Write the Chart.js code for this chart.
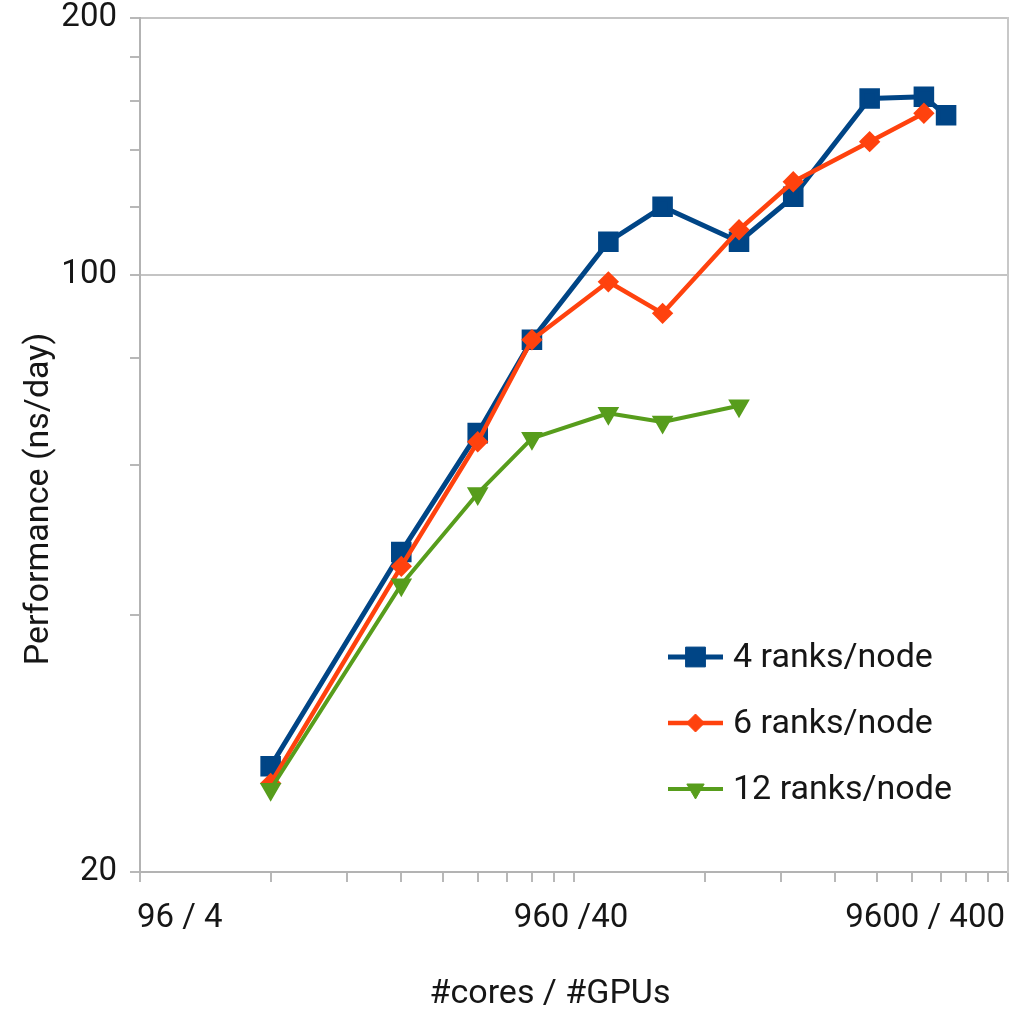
<!DOCTYPE html>
<html>
<head>
<meta charset="utf-8">
<script src="https://cdn.jsdelivr.net/npm/chart.js@4.4.0/dist/chart.umd.min.js"></script>
<style>
html,body{margin:0;padding:0;background:#fff;}
#wrap{width:1030px;height:1009px;}
</style>
</head>
<body>
<div id="wrap"><canvas id="c" width="1030" height="1009"></canvas></div>
<script>
// ---- data ----
const cores = [192, 384, 576, 768, 1152, 1536, 2304, 3072, 4608, 6144, 6912];
const ranks4 = [26.6, 47.4, 65.3, 84.0, 109.4, 120.2, 109.4, 123.5, 161.0, 161.7, 153.9];
const ranks6 = [25.4, 45.6, 63.8, 84.0, 98.2, 90.2, 113.0, 128.6, 143.3, 154.7, null];
const ranks12 = [25.0, 43.4, 55.5, 64.4, 68.9, 67.3, 70.3, null, null, null, null];
const seriesNames = ['4 ranks/node', '6 ranks/node', '12 ranks/node'];
const xTickValues = [96, 192, 288, 384, 480, 576, 672, 768, 864, 960, 1920, 2880, 3840, 4800, 5760, 6720, 7680, 8640, 9600];
const xTickLabels = {96: '96 / 4', 960: '960 /40', 9600: '9600 / 400'};
const yTickValues = [20, 40, 60, 80, 100, 120, 140, 160, 180, 200];
const yTickLabels = {20: '20', 100: '100', 200: '200'};
const yGridValues = [100, 200];
const xTitle = '#cores / #GPUs';
const yTitle = 'Performance (ns/day)';

const toPoints = arr => cores.map((c, i) => ({x: c, y: arr[i]})).filter(p => p.y !== null);

Chart.defaults.font.family = 'Roboto, "Noto Sans", sans-serif';
Chart.defaults.color = '#161616';

const legendPlugin = {
  id: 'insideLegend',
  afterDraw(chart, args, opts) {
    const ctx = chart.ctx;
    ctx.save();
    chart.data.datasets.forEach((ds, i) => {
      const y = opts.rows[i];
      ctx.strokeStyle = ds.borderColor;
      ctx.lineWidth = ds.borderWidth;
      ctx.beginPath();
      ctx.moveTo(opts.lineStart, y);
      ctx.lineTo(opts.lineEnd, y);
      ctx.stroke();
      ctx.fillStyle = ds.backgroundColor;
      ctx.strokeStyle = ds.borderColor;
      ctx.lineWidth = 1;
      Chart.helpers.drawPoint(ctx, {
        pointStyle: ds.pointStyle,
        rotation: ds.pointRotation || 0,
        radius: opts.markerRadius[i],
        borderWidth: 1
      }, (opts.lineStart + opts.lineEnd) / 2, y);
      ctx.fillStyle = '#161616';
      ctx.font = opts.font;
      ctx.textAlign = 'left';
      ctx.textBaseline = 'middle';
      ctx.fillText(ds.label, opts.textX, y + 1);
    });
    ctx.restore();
  }
};

const axisTitlePlugin = {
  id: 'axisTitles',
  afterDraw(chart, args, opts) {
    const ctx = chart.ctx;
    ctx.save();
    ctx.fillStyle = '#161616';
    ctx.font = opts.font;
    ctx.textAlign = 'center';
    ctx.textBaseline = 'middle';
    ctx.fillText(xTitle, opts.xTitleX, opts.xTitleY);
    ctx.translate(opts.yTitleX, opts.yTitleY);
    ctx.rotate(-Math.PI / 2);
    ctx.fillText(yTitle, 0, 0);
    ctx.restore();
  }
};

new Chart(document.getElementById('c'), {
  type: 'line',
  data: {
    datasets: [
      {label: seriesNames[0], data: toPoints(ranks4), borderColor: '#004586', backgroundColor: '#004586',
       borderWidth: 5, pointStyle: 'rect', pointRadius: 11, pointHoverRadius: 11, order: 3},
      {label: seriesNames[1], data: toPoints(ranks6), borderColor: '#ff420e', backgroundColor: '#ff420e',
       borderWidth: 4.5, pointStyle: 'rectRot', pointRadius: 7.5, pointHoverRadius: 7.5, order: 2},
      {label: seriesNames[2], data: toPoints(ranks12), borderColor: '#579d1c', backgroundColor: '#579d1c',
       borderWidth: 4, pointStyle: 'triangle', pointRotation: 180, pointRadius: 8.5, pointHoverRadius: 8.5, order: 1}
    ]
  },
  options: {
    responsive: false,
    animation: false,
    devicePixelRatio: 1,
    elements: {line: {tension: 0, borderJoinStyle: 'round'}, point: {borderWidth: 1}},
    layout: {padding: {top: 18, right: 22, left: 0, bottom: 0}},
    plugins: {
      legend: {display: false},
      tooltip: {enabled: false},
      insideLegend: {rows: [657, 723, 789], lineStart: 668, lineEnd: 723, textX: 733,
                     markerRadius: [14, 9, 10], font: '34px Roboto'},
      axisTitles: {font: '34px Roboto', xTitleX: 550, xTitleY: 994, yTitleX: 39, yTitleY: 499}
    },
    scales: {
      x: {
        type: 'logarithmic',
        min: 96, max: 9600,
        afterBuildTicks: s => { s.ticks = xTickValues.map(v => ({value: v})); },
        afterFit: s => { s.height = 137; s.paddingLeft = 0; s.paddingRight = 0; },
        ticks: {
          autoSkip: false, maxRotation: 0, minRotation: 0,
          align: 'inner', labelOffset: -3, padding: 20,
          font: {size: 33, lineHeight: 1},
          callback: v => (xTickLabels[v] !== undefined ? xTickLabels[v] : '')
        },
        grid: {drawOnChartArea: false, color: '#b8b8b8', tickColor: '#b8b8b8', tickLength: 10, lineWidth: 2},
        border: {display: true, color: '#b3b3b3', width: 2},
        title: {display: false}
      },
      y: {
        type: 'logarithmic',
        min: 20, max: 200,
        afterBuildTicks: s => { s.ticks = yTickValues.map(v => ({value: v})); },
        afterFit: s => { s.width = 140; s.paddingTop = 0; s.paddingBottom = 0; },
        ticks: {
          autoSkip: false, padding: 13,
          font: {size: 33, lineHeight: 1},
          callback: v => (yTickLabels[v] !== undefined ? yTickLabels[v] : '')
        },
        grid: {
          color: c => (c.tick && yGridValues.includes(c.tick.value) ? '#c4c4c4' : 'rgba(0,0,0,0)'),
          tickColor: '#b8b8b8', tickLength: 10, lineWidth: 2
        },
        border: {display: true, color: '#b3b3b3', width: 2},
        title: {display: false}
      },
      y2: {
        type: 'linear', position: 'right', min: 0, max: 1,
        afterFit: s => { s.width = 0; s.paddingTop = 0; s.paddingBottom = 0; },
        ticks: {display: false},
        grid: {drawOnChartArea: false, color: 'rgba(0,0,0,0)', tickLength: 0},
        border: {display: true, color: '#c8c8c8', width: 2}
      }
    }
  },
  plugins: [legendPlugin, axisTitlePlugin]
});
</script>
</body>
</html>
